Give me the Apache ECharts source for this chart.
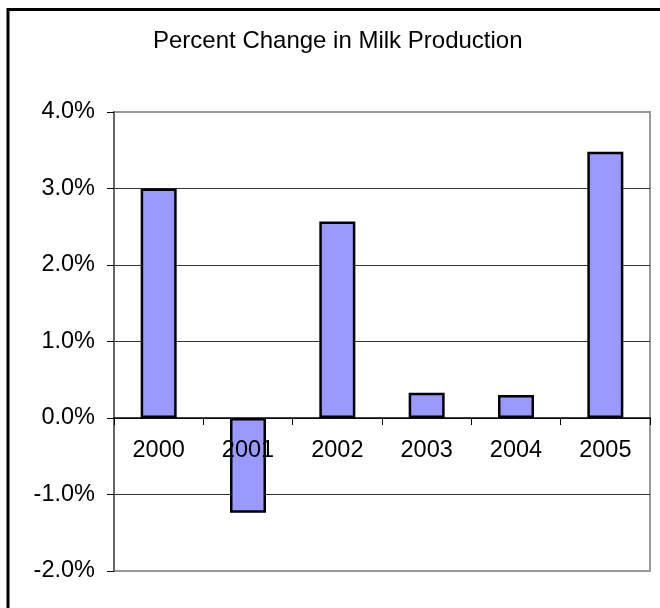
<!DOCTYPE html>
<html>
<head>
<meta charset="utf-8">
<script src="https://cdn.jsdelivr.net/npm/echarts@6/dist/echarts.min.js"></script>
<style>
  html, body { margin: 0; padding: 0; background: #fff; }
  #chart { width: 660px; height: 608px; }
</style>
</head>
<body>
<div id="chart"></div>
<script>
// data (percent)
const years = ['2000', '2001', '2002', '2003', '2004', '2005'];
const pctChange = [3.0, -1.24, 2.57, 0.33, 0.30, 3.48];
const yTicks = [-2, -1, 0, 1, 2, 3, 4];

const gridTop = 112, gridBottom = 37;
const plotH = 608 - gridTop - gridBottom;
const yMin = yTicks[0], yMax = yTicks[yTicks.length - 1];
// category axis sits on the zero line, labels just under it
const zeroOffset = plotH * (0 - yMin) / (yMax - yMin);

const chart = echarts.init(document.getElementById('chart'));

const option = {
  animation: false,
  textStyle: { fontFamily: 'Liberation Sans, Arial, sans-serif' },
  title: {
    text: 'Percent Change in Milk Production',
    left: 153,
    top: 29,
    padding: 0,
    textStyle: { fontSize: 24, fontWeight: 'normal', color: '#000' },
  },
  graphic: [
    {
      type: 'rect',
      shape: { x: 8, y: 9.5, width: 800, height: 800 },
      style: { fill: null, stroke: '#000', lineWidth: 3 },
      silent: true,
    },
  ],
  grid: {
    left: 114,
    right: 10,
    top: gridTop,
    bottom: gridBottom,
    outerBoundsMode: 'none',
    containLabel: false,
    show: true,
    borderColor: '#999',
    borderWidth: 2,
  },
  xAxis: {
    type: 'category',
    data: years,
    offset: -zeroOffset,
    axisLine: { onZero: false, lineStyle: { color: '#000', width: 1.5 } },
    axisTick: { show: true, length: 7, lineStyle: { color: '#000' } },
    axisLabel: { fontSize: 23.5, color: '#000', margin: 21 },
    z: 5,
  },
  yAxis: {
    type: 'value',
    min: yMin,
    max: yMax,
    interval: 1,
    axisLine: { show: true, lineStyle: { color: '#666', width: 2 } },
    axisTick: { show: true, length: 7, lineStyle: { color: '#000' } },
    axisLabel: {
      fontSize: 23.5,
      color: '#000',
      margin: 19,
      formatter: (v) => v.toFixed(1) + '%',
    },
    splitLine: {
      lineStyle: {
        color: ['#999', '#333', '#333', '#333', '#333', '#333', '#999'],
        width: 1.2,
      },
    },
  },
  series: [
    {
      type: 'bar',
      data: pctChange,
      barWidth: 36,
      itemStyle: {
        color: '#9999FF',
        borderColor: '#000',
        borderWidth: 2.5,
      },
    },
  ],
};

chart.setOption(option);
</script>
</body>
</html>
